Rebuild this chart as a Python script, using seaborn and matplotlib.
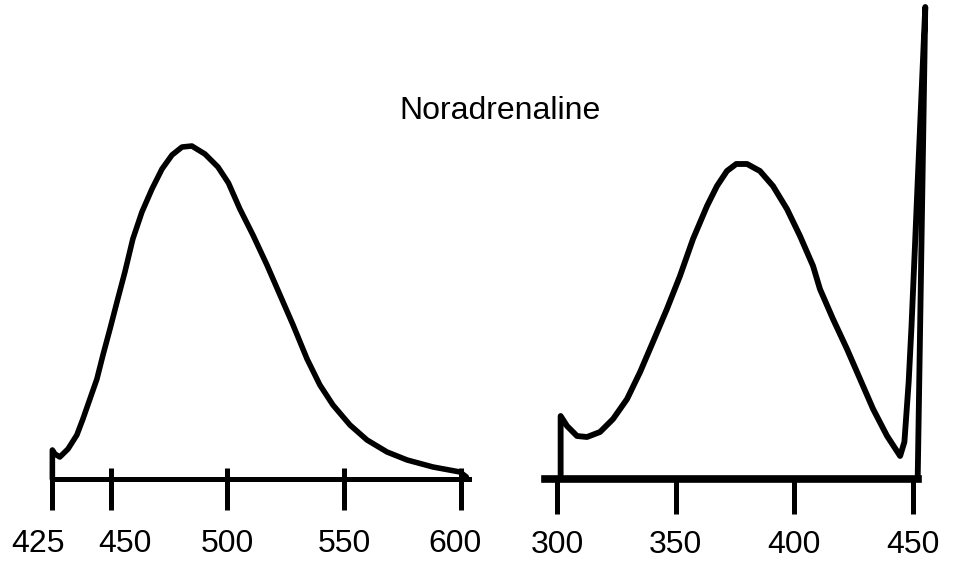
import matplotlib
matplotlib.use("Agg")
import matplotlib.pyplot as plt
import matplotlib.transforms as mtransforms
import seaborn as sns
import pandas as pd

# ---- data (intensity in arbitrary units) ----
title_text = "Noradrenaline"

# left panel: fluorescence emission spectrum
emission_nm = [425, 425, 426.1, 428.2, 431.7, 435.5, 438.1, 441.1, 444.1, 446.7,
               449.7, 452.7, 456.1, 459.5, 463.4, 467.7, 472.0, 476.3, 480.6,
               484.8, 490.4, 496.0, 500.5, 505.4, 511.0, 517.0, 522.6, 528.2,
               534.2, 539.7, 545.3, 552.6, 559.9, 568.5, 577.1, 588.2, 599.8, 602.5]
emission_int = [0, 29, 25, 22, 30, 44, 60, 80, 100, 124,
                150, 177, 207, 240, 267, 290, 310, 324, 332,
                333, 325, 312, 296, 270, 244, 214, 184, 154,
                120, 94, 74, 54, 39, 27, 19, 12, 7, 2]
emission_ticks = [425, 450, 500, 550, 600]

# right panel: excitation spectrum (with scatter spike at 450)
excitation_nm = [301.5, 301.5, 304.2, 308.4, 312.6, 318.1, 323.6, 329.5, 335.0,
                 340.4, 346.3, 351.8, 357.3, 363.2, 367.4, 371.6, 375.5, 380.1,
                 385.5, 391.0, 396.9, 402.4, 407.9, 410.8, 416.3, 422.2, 427.7,
                 433.2, 439.1, 444.6, 446.4, 448.2, 449.4, 450.8, 452.0, 455.2, 452.0]
excitation_int = [0, 63, 53, 43, 42, 47, 60, 80, 107,
                  137, 170, 203, 240, 273, 293, 308, 315, 315,
                  308, 293, 270, 243, 213, 190, 160, 130, 100,
                  70, 43, 23, 37, 97, 153, 230, 297, 472, 0]
excitation_ticks = [300, 350, 400, 450]

emission_df = pd.DataFrame({"nm": emission_nm, "intensity": emission_int})
excitation_df = pd.DataFrame({"nm": excitation_nm, "intensity": excitation_int})

sns.set_style("white")
plt.rcParams["font.family"] = ["Liberation Sans", "DejaVu Sans"]

W, H = 955, 565
fig = plt.figure(figsize=(W / 100, H / 100), dpi=100)
fig.patch.set_facecolor("white")

bottom = 86 / H
height = 479 / H
ax1 = fig.add_axes([40 / W, bottom, 435 / W, height])
ax2 = fig.add_axes([540 / W, bottom, 395 / W, height])

sns.lineplot(data=emission_df, x="nm", y="intensity", sort=False, estimator=None,
             color="black", linewidth=4.0, ax=ax1)
sns.lineplot(data=excitation_df, x="nm", y="intensity", sort=False, estimator=None,
             color="black", linewidth=4.2, ax=ax2)

for ln in ax1.lines + ax2.lines:
    ln.set_clip_on(False)
    ln.set_solid_joinstyle("round")
    ln.set_solid_capstyle("round")

ax1.set_xlim(419.7, 606.2)
ax2.set_xlim(292.8, 459.3)
for ax in (ax1, ax2):
    ax.set_ylim(0, 479)
    ax.set_facecolor("none")
    for s in ("left", "right", "top"):
        ax.spines[s].set_visible(False)
    ax.set_yticks([])
    ax.set_xlabel("")
    ax.set_ylabel("")
    ax.spines["bottom"].set_color("black")

ax1.set_xticks(emission_ticks)
ax1.set_xticklabels([str(t) for t in emission_ticks])
ax2.set_xticks(excitation_ticks)
ax2.set_xticklabels([str(t) for t in excitation_ticks])

# small upward stubs of the left panel's ticks (ticks cross the axis line)
ax1.xaxis.remove_overlapping_locs = False
ax1.set_xticks(emission_ticks[1:], minor=True)
ax1.tick_params(axis="x", which="minor", bottom=True, direction="in",
                length=8, width=3.6, color="black")

ax1.spines["bottom"].set_bounds(425, 603.5)
ax1.spines["bottom"].set_linewidth(3.6)
ax2.spines["bottom"].set_bounds(294.9, 452.0)
ax2.spines["bottom"].set_linewidth(5.5)

ax1.tick_params(axis="x", which="major", bottom=True, direction="out", length=22,
                width=3.6, colors="black", labelsize=23, pad=14)
ax2.tick_params(axis="x", which="major", bottom=True, direction="out", length=25,
                width=3.6, colors="black", labelsize=23, pad=12)

# nudge the crowded left-panel labels apart as in the original figure
label_shift_px = {0: -14, 1: 14, 4: -6}
for i, lab in enumerate(ax1.get_xticklabels()):
    if i in label_shift_px:
        off = mtransforms.ScaledTranslation(label_shift_px[i] / 100, 0,
                                            fig.dpi_scale_trans)
        lab.set_transform(lab.get_transform() + off)

fig.text(500 / W, 1 - 111 / H, title_text, ha="center", va="center",
         fontsize=23, color="black")

fig.savefig("out.png", dpi=100, facecolor="white")
